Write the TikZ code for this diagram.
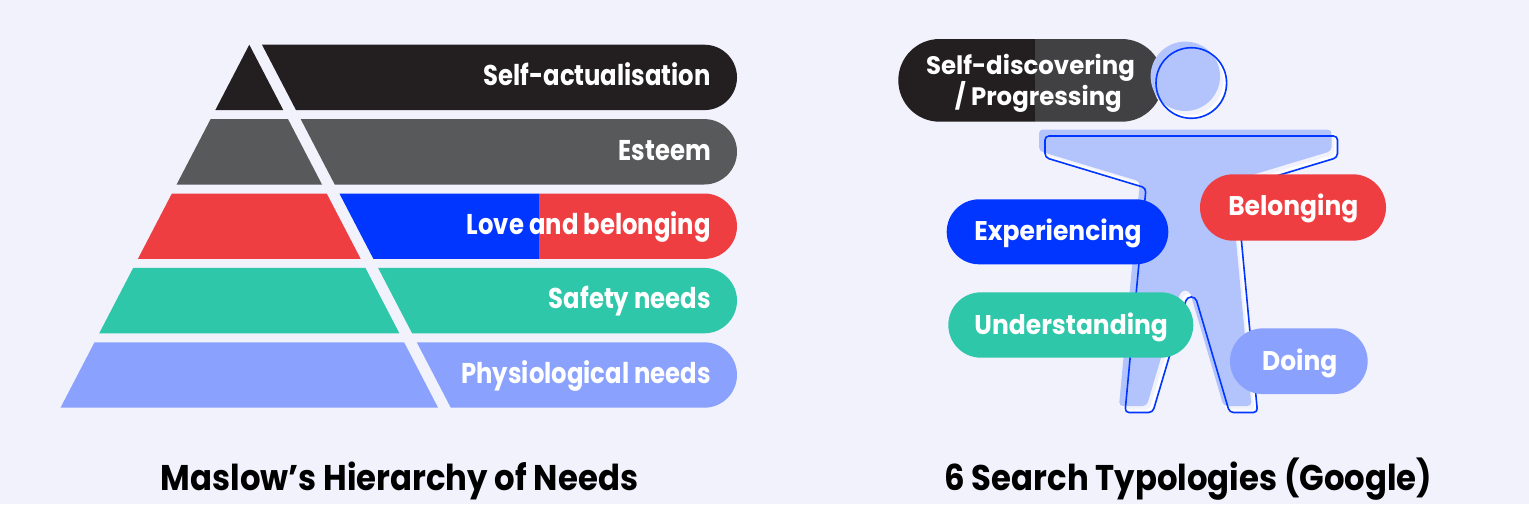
\documentclass[tikz,border=0pt]{standalone}
\usepackage{fontspec}
\setmainfont{Poppins}
\newfontfamily\fpyr{Poppins}[FakeStretch=0.85]
\newfontfamily\fttl{Poppins}[FakeStretch=0.905]
\newfontfamily\fpil{Poppins}[FakeStretch=0.925]
\newfontfamily\fsd{Poppins}[FakeStretch=0.965]
\usetikzlibrary{shapes.misc}
\definecolor{bg}{HTML}{F2F2FD}
\definecolor{cBlack}{HTML}{231F20}
\definecolor{cGray}{HTML}{58595B}
\definecolor{cGrayB}{HTML}{414042}
\definecolor{cRed}{HTML}{EF3E42}
\definecolor{cBlue}{HTML}{0036FF}
\definecolor{cTeal}{HTML}{2EC7A9}
\definecolor{cLight}{HTML}{8AA2FD}
\definecolor{cHead}{HTML}{B3C3FB}
\tikzset{
  lab/.style={anchor=base east, text=white, inner sep=0pt, font=\fontsize{28.6}{30}\fpyr\bfseries},
  plab/.style={anchor=base, text=white, inner sep=0pt, font=\fontsize{27}{30}\fpil\bfseries},
  slab/.style={anchor=base, text=white, inner sep=0pt, font=\fontsize{25.3}{28}\fsd\bfseries},
  ttl/.style={anchor=base, text=black, inner sep=0pt, font=\fontsize{35.7}{40}\fttl\bfseries},
  pill/.style={rounded rectangle, inner sep=0pt, draw=none},
}
\newcommand\bodyshape{(1045,136) -- (1337.5,136) -- (1337.5,157.5) -- (1236.5,188) -- (1257.5,412.5) -- (1229.5,412.5) -- (1195.5,297) -- (1187,297) -- (1152.7,412.5) -- (1125,412.5) -- (1146,188) -- (1045,157.5) -- cycle}
\begin{document}
\begin{tikzpicture}[x=1pt,y=-1pt]
\useasboundingbox (0,0) rectangle (1529,504);
\fill[bg] (0,0) rectangle (1529,504);
% ---------- pyramid ----------
\fill[cBlack] (249.3,44.7) -- (283.3,110.1) -- (215.3,110.1) -- cycle;
\fill[cBlack] (262,44.7) -- (704.3,44.7) arc[start angle=90,end angle=-90,radius=32.7pt] -- (296,110.1) -- cycle;
\fill[cGray] (210.6,119.1) -- (288.0,119.1) -- (322.0,184.5) -- (176.6,184.5) -- cycle;
\fill[cGray] (300.7,119.1) -- (704.3,119.1) arc[start angle=90,end angle=-90,radius=32.7pt] -- (334.7,184.5) -- cycle;
\fill[cRed] (171.9,193.5) -- (326.7,193.5) -- (360.7,258.9) -- (137.9,258.9) -- cycle;
\fill[cBlue] (339.4,193.5) -- (539,193.5) -- (539,258.9) -- (373.4,258.9) -- cycle;
\fill[cRed] (539,193.5) -- (704.3,193.5) arc[start angle=90,end angle=-90,radius=32.7pt] -- (539,258.9) -- cycle;
\fill[cTeal] (133.2,267.9) -- (365.4,267.9) -- (399.4,333.3) -- (99.2,333.3) -- cycle;
\fill[cTeal] (378.1,267.9) -- (704.3,267.9) arc[start angle=90,end angle=-90,radius=32.7pt] -- (412.1,333.3) -- cycle;
\fill[cLight] (94.5,342.3) -- (404.1,342.3) -- (438.1,407.7) -- (60.5,407.7) -- cycle;
\fill[cLight] (416.8,342.3) -- (704.3,342.3) arc[start angle=90,end angle=-90,radius=32.7pt] -- (450.8,407.7) -- cycle;
\node[lab] (l0) at (711,85.7) {Self-actualisation};
\node[lab] (l1) at (711,160.1) {Esteem};
\node[lab] (l2) at (711,234.5) {Love and belonging};
\node[lab] (l3) at (711,308.9) {Safety needs};
\node[lab] (l4) at (711,383.3) {Physiological needs};
\node[ttl] (t1) at (399.5,490) {Maslow’s Hierarchy of Needs};
\node[ttl] (t2) at (1188.3,490) {6 Search Typologies (Google)};
% ---------- self-discovering pill ----------
\begin{scope}
\clip[rounded corners=41.3pt] (898.3,39) rectangle (1163,121.7);
\fill[cBlack] (890,30) rectangle (1035,130);
\fill[cGrayB] (1035,30) rectangle (1170,130);
\end{scope}
\node[slab] (sd1) at (1030.5,74.3) {Self-discovering};
\node[slab] (sd2) at (1038.3,105.7) {/ Progressing};
% ---------- figure ----------
\draw[white, line width=2.5pt, shift={(-2,-2)}, rounded corners=4pt] \bodyshape;
\draw[white, line width=2.5pt] (1189.3,81) circle[radius=35.3pt];
\fill[cHead, shift={(-6,-6.5)}, rounded corners=4pt] \bodyshape;
\fill[cHead] (1185.3,76.3) circle[radius=34.7pt];
\draw[cBlue, line width=1.6pt, rounded corners=4pt] \bodyshape;
\draw[cBlue, line width=1.6pt] (1191.3,83) circle[radius=35.3pt];
% ---------- typology pills ----------
\node[pill, fill=cBlue, minimum width=221.6pt, minimum height=65pt] (pe) at (1057.5,231.8) {};
\node[pill, fill=cRed, minimum width=186pt, minimum height=66.4pt] (pb) at (1293,207.5) {};
\node[pill, fill=cTeal, minimum width=245pt, minimum height=65.4pt] (pu) at (1070.8,325) {};
\node[pill, fill=cLight, minimum width=137.7pt, minimum height=65.7pt] (pd) at (1298.8,361.2) {};
\node[plab] (te) at (1058,240.7) {Experiencing};
\node[plab] (tb) at (1293.3,215) {Belonging};
\node[plab] (tu) at (1071.2,334) {Understanding};
\node[plab] (td) at (1299.7,370) {Doing};
\end{tikzpicture}
\end{document}
